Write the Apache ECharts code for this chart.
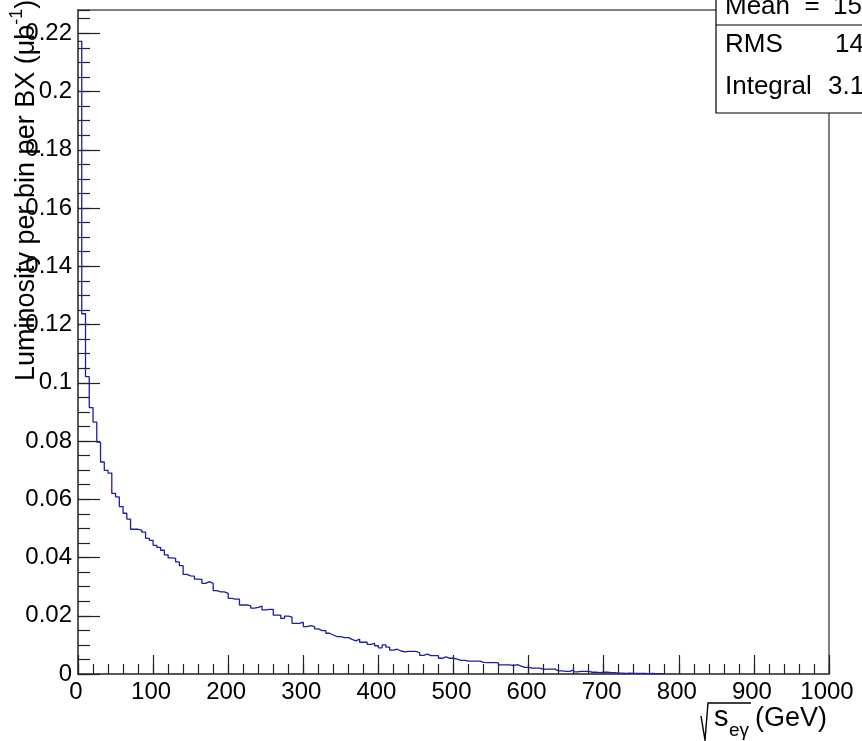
<!DOCTYPE html>
<html>
<head>
<meta charset="utf-8">
<script src="https://cdn.jsdelivr.net/npm/echarts@6/dist/echarts.min.js"></script>
<style>
  html, body { margin: 0; padding: 0; background: #fff; }
  #chart { width: 862px; height: 741px; }
</style>
</head>
<body>
<div id="chart"></div>
<script>
// histogram: 5 GeV bins starting at 0
var binStart = 0;
var binWidth = 5;
var lumi = [
    0.2172, 0.1237, 0.1021, 0.0915, 0.0865, 0.0796, 0.0728, 0.0699, 0.0690, 0.0620,
    0.0608, 0.0575, 0.0552, 0.0532, 0.0497, 0.0497, 0.0494, 0.0487, 0.0466, 0.0459,
    0.0442, 0.0435, 0.0425, 0.0409, 0.0399, 0.0397, 0.0385, 0.0372, 0.0342, 0.0337,
    0.0336, 0.0326, 0.0325, 0.0311, 0.0317, 0.0311, 0.0286, 0.0282, 0.0282, 0.0277,
    0.0260, 0.0257, 0.0257, 0.0237, 0.0237, 0.0234, 0.0226, 0.0229, 0.0233, 0.0220,
    0.0222, 0.0222, 0.0202, 0.0202, 0.0191, 0.0199, 0.0195, 0.0174, 0.0174, 0.0178,
    0.0163, 0.0166, 0.0163, 0.0155, 0.0149, 0.0149, 0.0140, 0.0134, 0.0128, 0.0128,
    0.0125, 0.0125, 0.0119, 0.0114, 0.0120, 0.0109, 0.0109, 0.0102, 0.0105, 0.0097,
    0.0090, 0.0100, 0.0092, 0.0082, 0.0085, 0.0079, 0.0076, 0.0078, 0.0078, 0.0078,
    0.0073, 0.0064, 0.0068, 0.0063, 0.0063, 0.0063, 0.0054, 0.0059, 0.0054, 0.0054,
    0.0051, 0.0047, 0.0047, 0.0044, 0.0044, 0.0044, 0.0044, 0.0040, 0.0039, 0.0039,
    0.0039, 0.0038, 0.0031, 0.0031, 0.0031, 0.0029, 0.0032, 0.0027, 0.0023, 0.0023,
    0.0020, 0.0020, 0.0020, 0.0016, 0.0017, 0.0017, 0.0017, 0.0011, 0.0011, 0.0009,
    0.0009, 0.0014, 0.0007, 0.0009, 0.0009, 0.0009, 0.0006, 0.0006, 0.0005, 0.0006,
    0.0006, 0.0005, 0.0005, 0.0003, 0.0003, 0.0002, 0.0003, 0.0002, 0.0002, 0.0002,
    0.0002, 0.0001, 0.0002, 0.0001, 0.0001, 0.0001
];

var xRange = [0, 1000];
var yRange = [0, 0.228];
var statNames = ['Mean  =', 'RMS', 'Integral'];
var statValues = ['150', '14', '3.1'];

var FONT = "'Liberation Sans', Arial, sans-serif";
var AXIS_COLOR = '#555';
var TICK_COLOR = '#222';

// bin low edges + closing point so the last bin drops back to zero
var points = lumi.map(function (v, i) {
    return [binStart + i * binWidth, v];
});
points.push([binStart + lumi.length * binWidth, 0]);

function x_axis(interval, tickLen, showLabel) {
    return {
        type: 'value',
        position: 'bottom',
        min: xRange[0],
        max: xRange[1],
        interval: interval,
        axisLine: { show: true, lineStyle: { color: AXIS_COLOR, width: 1.5 } },
        axisTick: { show: true, inside: true, length: tickLen, lineStyle: { color: TICK_COLOR, width: 1.2 } },
        axisLabel: {
            show: showLabel,
            margin: 6,
            padding: [0, 4, 0, 0],
            fontSize: 24,
            fontFamily: FONT,
            color: '#000',
            formatter: function (v) { return String(v); }
        },
        splitLine: { show: false }
    };
}

function y_axis(interval, tickLen, showLabel) {
    return {
        type: 'value',
        position: 'left',
        min: yRange[0],
        max: yRange[1],
        interval: interval,
        axisLine: { show: true, lineStyle: { color: AXIS_COLOR, width: 1.5 } },
        axisTick: { show: true, inside: true, length: tickLen, lineStyle: { color: TICK_COLOR, width: 1.2 } },
        axisLabel: {
            show: showLabel,
            showMaxLabel: false,
            margin: 6,
            fontSize: 24,
            fontFamily: FONT,
            color: '#000'
        },
        splitLine: { show: false }
    };
}

var statsGraphics = [
    {
        type: 'rect', z: 50,
        shape: { x: 716, y: -20, width: 200, height: 133 },
        style: { fill: '#fff', stroke: '#000', lineWidth: 1.2 }
    },
    {
        type: 'line', z: 51,
        shape: { x1: 716, y1: 25, x2: 880, y2: 25 },
        style: { stroke: '#000', lineWidth: 1.2 }
    }
];
var statY = [6.5, 44.5, 87];
var statValX = [833, 835, 828];
statNames.forEach(function (name, i) {
    statsGraphics.push({
        type: 'text', z: 52, x: 725, y: statY[i],
        style: { text: name, font: '26px ' + FONT, fill: '#000', align: 'left', verticalAlign: 'middle' }
    });
    statsGraphics.push({
        type: 'text', z: 52, x: statValX[i], y: statY[i],
        style: { text: statValues[i], font: '26px ' + FONT, fill: '#000', align: 'left', verticalAlign: 'middle' }
    });
});

var titleGraphics = [
    // y axis title, rotated
    {
        type: 'text', z: 40, x: 27, y: 381, rotation: Math.PI / 2,
        style: {
            text: 'Luminosity per bin per BX (μb{sup|-1})',
            font: '27px ' + FONT,
            fontSize: 27,
            fontFamily: FONT,
            lineHeight: 38,
            fill: '#000',
            align: 'left',
            verticalAlign: 'middle',
            rich: {
                sup: { fontSize: 18, fontFamily: FONT, fill: '#000', verticalAlign: 'top', lineHeight: 18 }
            }
        }
    },
    // x axis title: sqrt(s_eγ) (GeV)
    {
        type: 'polyline', z: 40,
        shape: { points: [[701, 716], [705, 740], [708, 703], [751, 703]] },
        style: { stroke: '#000', lineWidth: 1.4, fill: null }
    },
    {
        type: 'text', z: 40, x: 714, y: 718,
        style: { text: 's', font: '29px ' + FONT, fill: '#000', align: 'left', verticalAlign: 'middle' }
    },
    {
        type: 'text', z: 40, x: 729, y: 731,
        style: { text: 'eγ', font: '19px ' + FONT, fill: '#000', align: 'left', verticalAlign: 'middle' }
    },
    {
        type: 'text', z: 40, x: 755, y: 719,
        style: { text: '(GeV)', font: '27px ' + FONT, fill: '#000', align: 'left', verticalAlign: 'middle' }
    }
];

var chart = echarts.init(document.getElementById('chart'), null, { renderer: 'canvas' });
chart.setOption({
    animation: false,
    backgroundColor: '#fff',
    grid: {
        left: 78, right: 33, top: 10, bottom: 67,
        show: true,
        borderColor: AXIS_COLOR,
        borderWidth: 1.5,
        backgroundColor: 'transparent'
    },
    xAxis: [x_axis(20, 10, false), x_axis(100, 19, true)],
    yAxis: [y_axis(0.005, 12, false), y_axis(0.02, 22, true)],
    series: [{
        type: 'line',
        xAxisIndex: 0,
        yAxisIndex: 0,
        step: 'end',
        data: points,
        showSymbol: false,
        symbol: 'none',
        lineStyle: { color: '#1c1ca6', width: 1.3 }
    }],
    graphic: statsGraphics.concat(titleGraphics)
});
</script>
</body>
</html>
